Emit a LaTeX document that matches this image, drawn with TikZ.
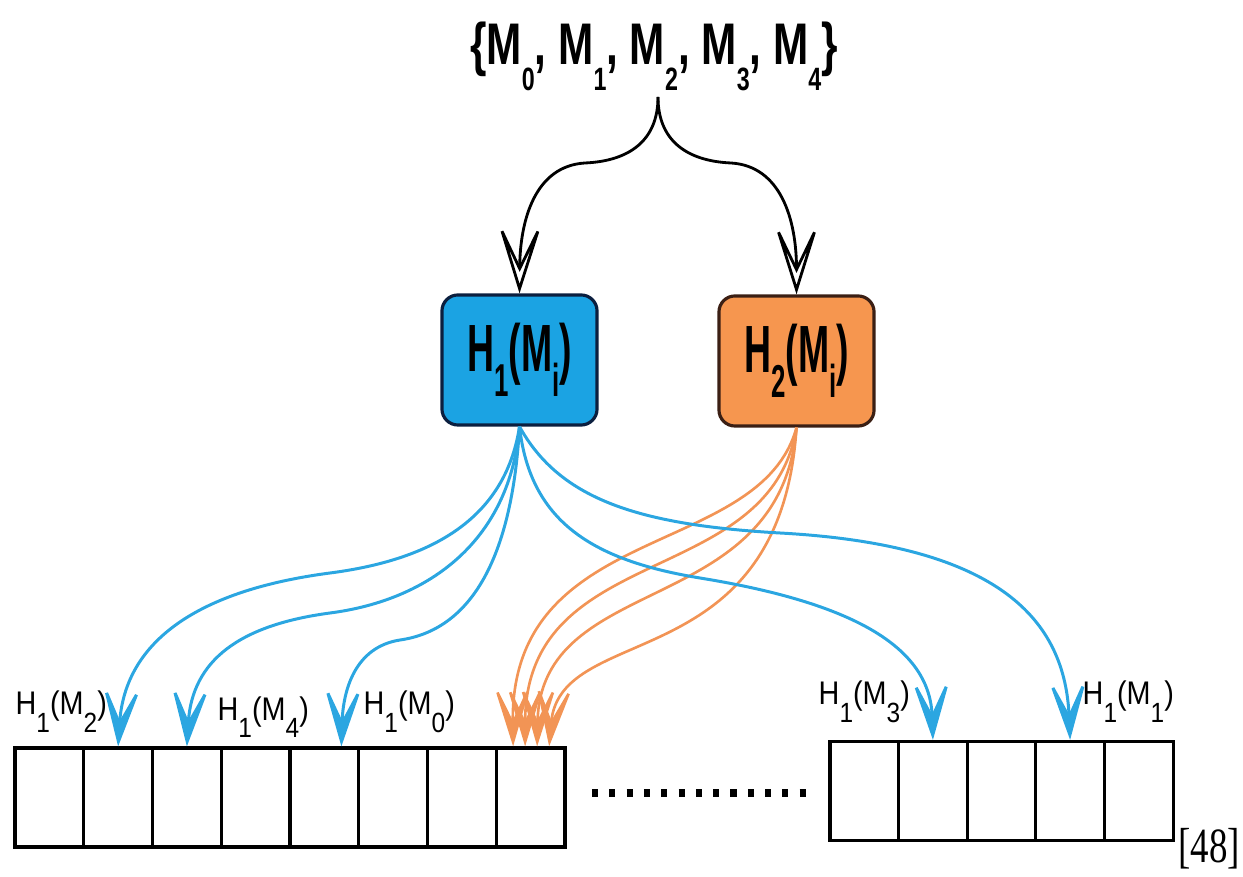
\documentclass[tikz,border=0pt]{standalone}
\usepackage{fontspec}
\usetikzlibrary{arrows.meta}

\newfontfamily\topfont[FakeStretch=0.72]{Liberation Sans}
\newfontfamily\boxfont[FakeStretch=0.56]{Liberation Sans}
\newfontfamily\labfont[FakeStretch=0.88]{Liberation Sans}
\newfontfamily\reffont[FakeStretch=0.75]{Liberation Serif}

% lowered index, scale and drop set by the node style
\newcommand{\idxscale}{0.6}
\newcommand{\idxdrop}{0.4em}
\newcommand{\subidx}[1]{\raisebox{-\idxdrop}{\scalebox{\idxscale}{#1}}}

\definecolor{hashblue}{HTML}{1BA3E3}
\definecolor{hashblueline}{HTML}{2BA6E1}
\definecolor{hashblueedge}{HTML}{0B1F3F}
\definecolor{hashorange}{HTML}{F6964F}
\definecolor{hashorangeline}{HTML}{F29455}
\definecolor{hashorangeedge}{HTML}{3B1F14}

\tikzset{
  settext/.style={font=\topfont\bfseries\fontsize{16.7}{20}\selectfont\renewcommand\idxscale{0.55}\renewcommand\idxdrop{0.43em}, inner sep=0pt, anchor=base},
  hashbox/.style={draw, line width=0.9pt, rounded corners=0.16cm, minimum width=1.55cm, minimum height=1.3cm, inner sep=0pt,
    font=\boxfont\bfseries\fontsize{19}{22}\selectfont\renewcommand\idxscale{0.69}\renewcommand\idxdrop{0.37em}},
  cell/.style={draw, line width=0.9pt, minimum width=0.687cm, minimum height=0.99cm, inner sep=0pt},
  lab/.style={font=\labfont\fontsize{9.3}{11}\selectfont\renewcommand\idxscale{0.85}\renewcommand\idxdrop{0.55em}, inner sep=0pt, anchor=base west},
  toarrow/.style={line width=0.8pt, -{Stealth[open,length=8mm,width=5mm,inset=5.2mm]}},
  blueto/.style={draw=hashblueline, line width=0.85pt, -{Stealth[length=7mm,width=4.4mm,inset=4.4mm]}},
  orangeto/.style={draw=hashorangeline, line width=0.75pt, -{Stealth[length=7mm,width=4.2mm,inset=4.4mm]}}
}

\begin{document}
\begin{tikzpicture}[x=0.01cm,y=-0.01cm]
  \useasboundingbox (0,0) rectangle (1243,877);

  \node[settext] (set) at (654,65) {\{M\subidx{0}, M\subidx{1}, M\subidx{2}, M\subidx{3}, M\subidx{4}\}};
  \coordinate (split) at (658,97);

  \node[hashbox, fill=hashblue, draw=hashblueedge] (h1) at (519.5,360) {H\subidx{1}(M\subidx{i})};
  \node[hashbox, fill=hashorange, draw=hashorangeedge] (h2) at (796.5,361) {H\subidx{2}(M\subidx{i})};

  \draw[toarrow] (split) .. controls (658,140) and (630,161) .. (585,163)
    .. controls (535,166) and (520,220) .. (h1.north);
  \draw[toarrow] (split) .. controls (658,140) and (686,161) .. (731,163)
    .. controls (781,166) and (796.5,220) .. (h2.north);

  % table cells
  \foreach \i in {1,...,8}
    {\node[cell] (L\i) at ({15+68.75*(\i-0.5)},797.5) {};}
  \foreach \i in {1,...,5}
    {\node[cell] (R\i) at ({830+68.6*(\i-0.5)},791) {};}

  \draw[line width=0.085cm, dash pattern=on 0.06cm off 0.113cm] (592,793) -- (806,793);

  % second hash
  \draw[orangeto] (h2.south) .. controls (760,560) and (510,520) .. ([xshift=-0.175cm]L8.north);
  \draw[orangeto] (h2.south) .. controls (770,590) and (525,540) .. ([xshift=-0.055cm]L8.north);
  \draw[orangeto] (h2.south) .. controls (780,620) and (540,570) .. ([xshift=0.065cm]L8.north);
  \draw[orangeto] (h2.south) .. controls (780,680) and (560,620) .. ([xshift=0.185cm]L8.north);

  % first hash
  \draw[blueto] (h1.south) .. controls (505,520) and (430,560) .. (330,573)
    .. controls (200,590) and (125,640) .. (L2.north);
  \draw[blueto] (h1.south) .. controls (510,540) and (430,600) .. (330,613)
    .. controls (240,625) and (192,660) .. (L3.north);
  \draw[blueto] (h1.south) .. controls (512,560) and (470,630) .. (400,640)
    .. controls (355,647) and (343,690) .. ([xshift=0.17cm]L5.north);
  \draw[blueto] (h1.south) .. controls (530,520) and (590,560) .. (700,578)
    .. controls (860,604) and (930,650) .. (R2.north);
  \draw[blueto] (h1.south) .. controls (560,500) and (640,525) .. (780,533)
    .. controls (1000,545) and (1065,620) .. (R4.north);

  \node[lab] (m2) at (15,715) {H\subidx{1}(M\subidx{2})};
  \node[lab] (m4) at (217,720) {H\subidx{1}(M\subidx{4})};
  \node[lab] (m0) at (363,715) {H\subidx{1}(M\subidx{0})};
  \node[lab] (m3) at (818,705) {H\subidx{1}(M\subidx{3})};
  \node[lab] (m1) at (1082,705) {H\subidx{1}(M\subidx{1})};

  \node[font=\reffont\fontsize{14}{16}\selectfont, inner sep=0pt, anchor=base] (cite) at (1209,862) {[48]};
\end{tikzpicture}
\end{document}
